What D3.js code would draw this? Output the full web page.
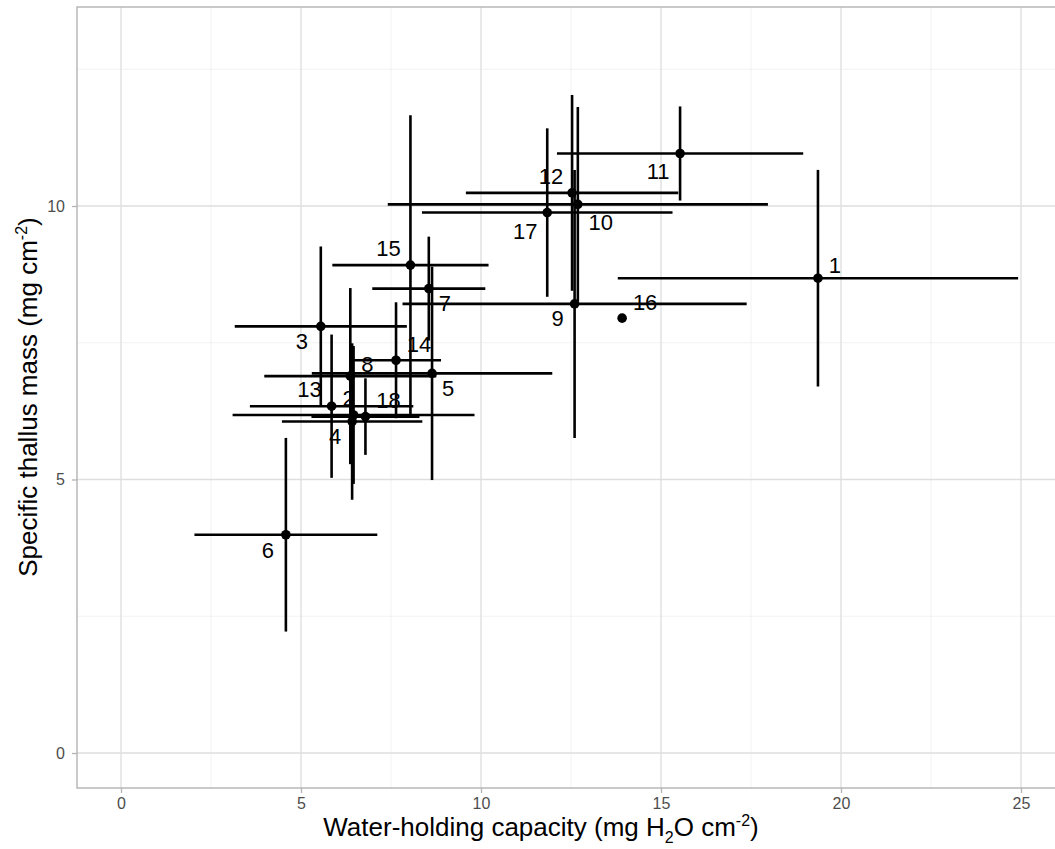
<!DOCTYPE html>
<html>
<head>
<meta charset="utf-8">
<style>
  body { margin: 0; background: #fff; }
  svg { display: block; }
  .tick text { font-size: 16px; font-family: "Liberation Sans", Arial, sans-serif; }
</style>
</head>
<body>
<div id="chart"></div>
<script src="https://d3js.org/d3.v7.min.js"></script>
<script>
'use strict';

// sample ids and means / standard deviations
var ids = ['1','2','3','4','5','6','7','8','9','10','11','12','13','14','15','16','17','18'];
var whc = [19.36, 6.46, 5.55, 6.42, 8.64, 4.58, 8.55, 6.37, 12.60, 12.69, 15.53, 12.53, 5.85, 7.64, 8.04, 13.92, 11.84, 6.79];
var whcSd = [5.56, 3.36, 2.39, 1.95, 3.34, 2.54, 1.57, 2.39, 4.78, 5.28, 3.42, 2.95, 2.27, 1.25, 2.17, null, 3.48, 1.50];
var stm = [8.68, 6.18, 7.80, 6.06, 6.94, 3.99, 8.49, 6.89, 8.21, 10.03, 10.96, 10.24, 6.34, 7.18, 8.92, 7.95, 9.88, 6.15];
var stmSd = [1.98, 1.26, 1.46, 1.43, 1.95, 1.77, 0.95, 1.61, 2.45, 1.78, 0.86, 1.79, 1.31, 1.06, 2.74, null, 1.54, 0.70];

var xTicks = [0, 5, 10, 15, 20, 25];
var yTicks = [0, 5, 10];
var xMinor = [2.5, 7.5, 12.5, 17.5, 22.5];
var yMinor = [2.5, 7.5, 12.5];

// repel-style nudges for the point labels (px)
var labelNudge = [[17,-13],[-5,-17],[-19,15],[-17,15],[16,15],[-18,15],[16,14],[17,-12],[-17,14],
                  [23,18],[-22,18],[-21,-17],[-22,-17],[23,-16],[-22,-17],[23,-16],[-22,19],[23,-17]];

var width = 1055, height = 849;
var panel = { left: 77, top: 7, bottom: 788, right: 1075 };

var x = d3.scaleLinear().domain([0, 25]).range([121, 1021]);
var y = d3.scaleLinear().domain([0, 10]).range([753, 206]);

var svg = d3.select('#chart').append('svg')
  .attr('width', width).attr('height', height);

var data = ids.map(function (id, i) {
  return { id: id, x: whc[i], xs: whcSd[i], y: stm[i], ys: stmSd[i], nudge: labelNudge[i] };
});

// grid
var grid = svg.append('g');
grid.selectAll('.vmin').data(xMinor).enter().append('line')
  .attr('x1', x).attr('x2', x).attr('y1', panel.top).attr('y2', panel.bottom)
  .attr('stroke', '#efefef').attr('stroke-width', 0.8);
grid.selectAll('.hmin').data(yMinor).enter().append('line')
  .attr('y1', y).attr('y2', y).attr('x1', panel.left).attr('x2', panel.right)
  .attr('stroke', '#efefef').attr('stroke-width', 0.8);
grid.selectAll('.vmaj').data(xTicks).enter().append('line')
  .attr('x1', x).attr('x2', x).attr('y1', panel.top).attr('y2', panel.bottom)
  .attr('stroke', '#dedede').attr('stroke-width', 1.3);
grid.selectAll('.hmaj').data(yTicks).enter().append('line')
  .attr('y1', y).attr('y2', y).attr('x1', panel.left).attr('x2', panel.right)
  .attr('stroke', '#dedede').attr('stroke-width', 1.3);

// panel border (right side falls outside the picture)
svg.append('rect')
  .attr('x', panel.left).attr('y', panel.top)
  .attr('width', panel.right - panel.left).attr('height', panel.bottom - panel.top)
  .attr('fill', 'none').attr('stroke', '#b3b3b3').attr('stroke-width', 1.4);

// axes
var xAxis = svg.append('g').attr('transform', 'translate(0,' + panel.bottom + ')')
  .call(d3.axisBottom(x).tickValues(xTicks).tickSize(5).tickPadding(5));
var yAxis = svg.append('g').attr('transform', 'translate(' + panel.left + ',0)')
  .call(d3.axisLeft(y).tickValues(yTicks).tickSize(5).tickPadding(7));
[xAxis, yAxis].forEach(function (a) {
  a.select('.domain').remove();
  a.selectAll('.tick line').attr('stroke', '#b3b3b3').attr('stroke-width', 1.3);
  a.selectAll('.tick text').attr('fill', '#4d4d4d');
});

// error bars
var bars = data.filter(function (d) { return d.xs != null; });
svg.append('g').selectAll('line').data(bars).enter().append('line')
  .attr('x1', function (d) { return x(d.x - d.xs); })
  .attr('x2', function (d) { return x(d.x + d.xs); })
  .attr('y1', function (d) { return y(d.y); })
  .attr('y2', function (d) { return y(d.y); })
  .attr('stroke', '#000').attr('stroke-width', 2.6);
svg.append('g').selectAll('line').data(bars).enter().append('line')
  .attr('x1', function (d) { return x(d.x); })
  .attr('x2', function (d) { return x(d.x); })
  .attr('y1', function (d) { return y(d.y - d.ys); })
  .attr('y2', function (d) { return y(d.y + d.ys); })
  .attr('stroke', '#000').attr('stroke-width', 2.6);

// points
svg.append('g').selectAll('circle').data(data).enter().append('circle')
  .attr('cx', function (d) { return x(d.x); })
  .attr('cy', function (d) { return y(d.y); })
  .attr('r', 4.8).attr('fill', '#000');

// labels
svg.append('g').selectAll('text').data(data).enter().append('text')
  .attr('x', function (d) { return x(d.x) + d.nudge[0]; })
  .attr('y', function (d) { return y(d.y) + d.nudge[1]; })
  .attr('dy', '0.36em')
  .attr('text-anchor', 'middle')
  .style('font-family', '"Liberation Sans", Arial, sans-serif')
  .style('font-size', '22px')
  .attr('fill', '#000')
  .text(function (d) { return d.id; });

// axis titles: narrow face, squeezed to the width seen in the figure
var titleFont = '"Liberation Sans Narrow", "Liberation Sans", sans-serif';

var xt = svg.append('text')
  .attr('text-anchor', 'middle')
  .style('font-family', titleFont).style('font-size', '26px').attr('fill', '#000');
xt.append('tspan').text('Water-holding capacity (mg H');
xt.append('tspan').attr('dy', 7).style('font-size', '16px').text('2');
xt.append('tspan').attr('dy', -7).text('O cm');
xt.append('tspan').attr('dy', -10).style('font-size', '16px').text('-2');
xt.append('tspan').attr('dy', 10).text(')');
var kx = Math.min(1, 445 / xt.node().getBBox().width);
xt.attr('transform', 'translate(541,836) scale(' + kx + ',1)');

var yt = svg.append('text')
  .attr('text-anchor', 'middle')
  .style('font-family', titleFont).style('font-size', '26px').attr('fill', '#000');
yt.append('tspan').text('Specific thallus mass (mg cm');
yt.append('tspan').attr('dy', -10).style('font-size', '16px').text('-2');
yt.append('tspan').attr('dy', 10).text(')');
var ky = Math.min(1, 378 / yt.node().getBBox().width);
yt.attr('transform', 'translate(37,397) rotate(-90) scale(' + ky + ',1)');
</script>
</body>
</html>
